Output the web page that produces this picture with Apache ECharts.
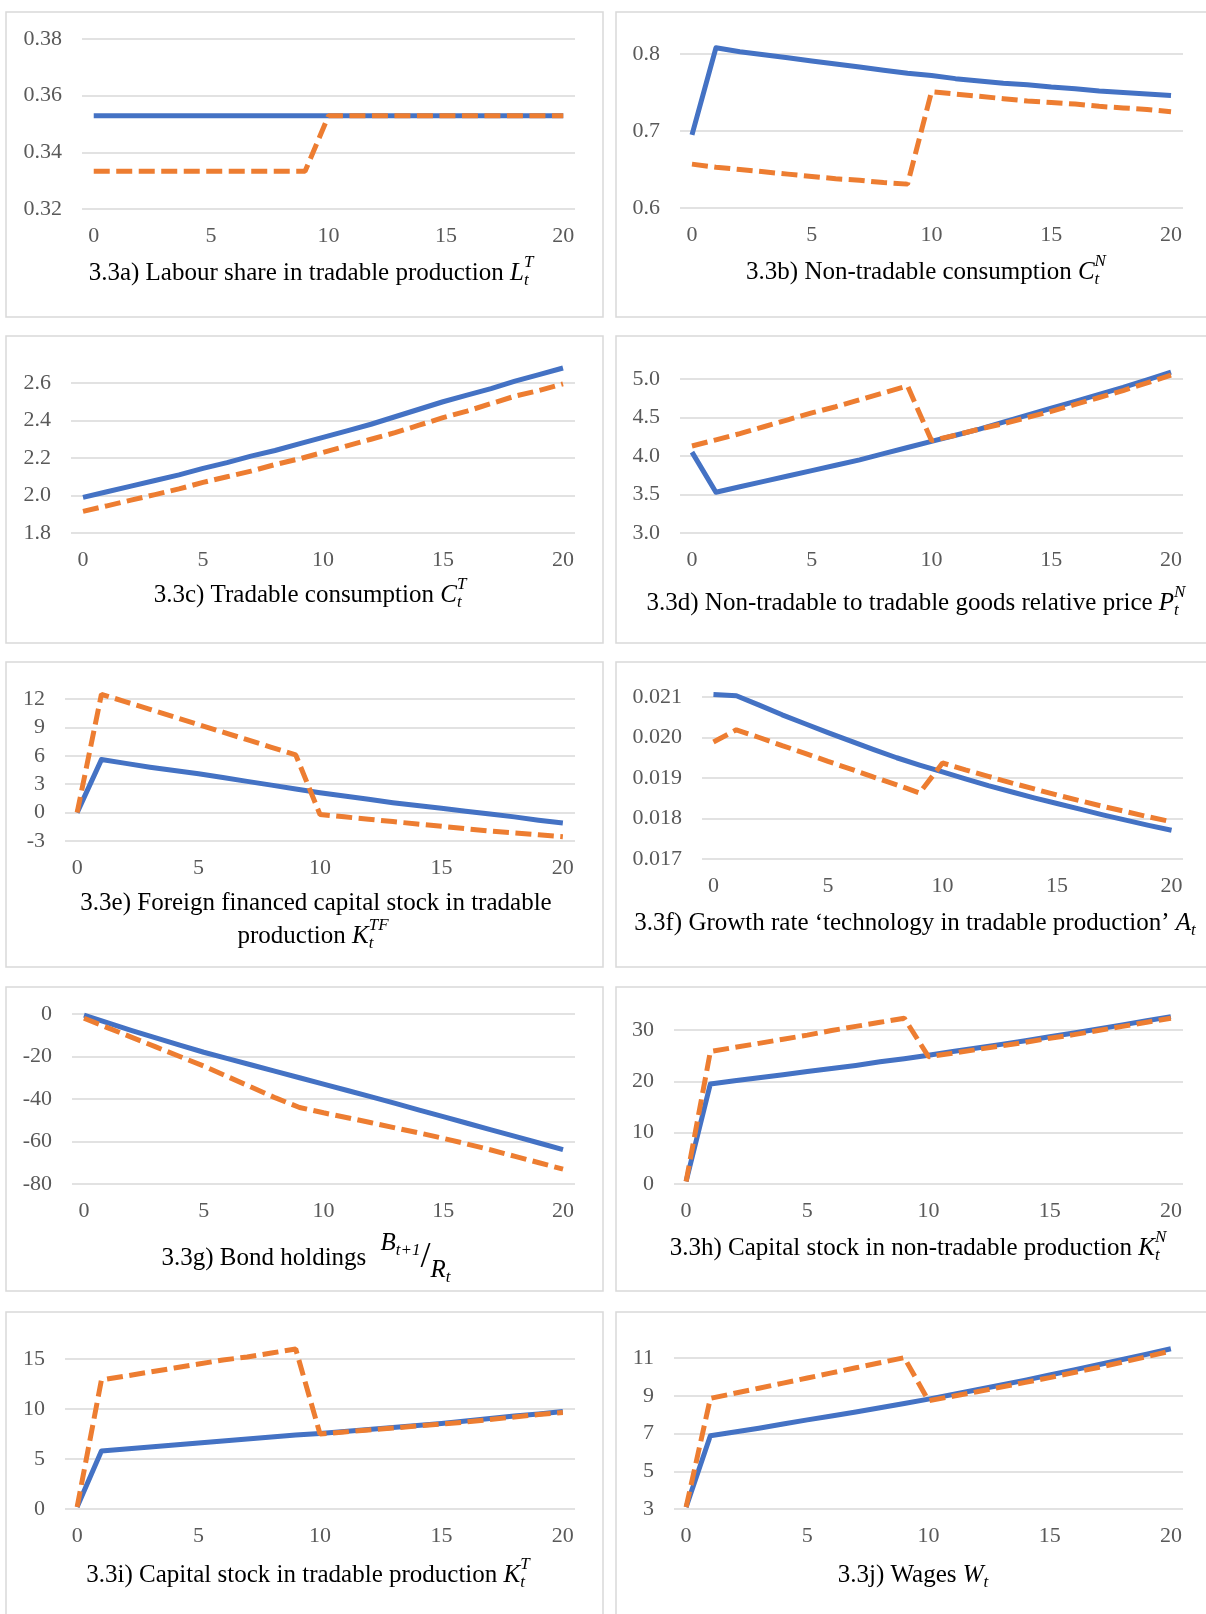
<!DOCTYPE html>
<html><head><meta charset="utf-8">
<script src="https://cdn.jsdelivr.net/npm/echarts@6/dist/echarts.min.js"></script>
<style>html,body{margin:0;padding:0;background:#fff}#c{width:1206px;height:1614px}</style>
</head><body><div id="c"></div>
<script>
// ---------- categories ----------
const periods = ['0','1','2','3','4','5','6','7','8','9','10','11','12','13','14','15','16','17','18','19','20'];

// ---------- y tick labels ----------
const yTicksA = [0.32, 0.34, 0.36, 0.38];
const yTicksB = [0.6, 0.7, 0.8];
const yTicksC = [1.8, 2.0, 2.2, 2.4, 2.6];
const yTicksD = [3.0, 3.5, 4.0, 4.5, 5.0];
const yTicksE = [-3, 0, 3, 6, 9, 12];
const yTicksF = [0.017, 0.018, 0.019, 0.020, 0.021];
const yTicksG = [-80, -60, -40, -20, 0];
const yTicksH = [0, 10, 20, 30];
const yTicksI = [0, 5, 10, 15];
const yTicksJ = [3, 5, 7, 9, 11];

// ---------- series values (blue = solid, orange = dashed) ----------
const labourShareBase  = [0.3529,0.3529,0.3529,0.3529,0.3529,0.3529,0.3529,0.3529,0.3529,0.3529,0.3529,0.3529,0.3529,0.3529,0.3529,0.3529,0.3529,0.3529,0.3529,0.3529,0.3529];
const labourShareShock = [0.3333,0.3333,0.3333,0.3333,0.3333,0.3333,0.3333,0.3333,0.3333,0.3333,0.3529,0.3529,0.3529,0.3529,0.3529,0.3529,0.3529,0.3529,0.3529,0.3529,0.3529];

const nonTradConsBase  = [0.695,0.808,0.803,0.799,0.795,0.791,0.787,0.783,0.779,0.775,0.772,0.768,0.765,0.762,0.760,0.757,0.755,0.752,0.750,0.748,0.746];
const nonTradConsShock = [0.657,0.653,0.650,0.647,0.644,0.641,0.638,0.636,0.633,0.631,0.751,0.748,0.745,0.742,0.739,0.737,0.735,0.732,0.730,0.728,0.725];

const tradConsBase  = [1.99,2.02,2.05,2.08,2.11,2.145,2.175,2.21,2.24,2.275,2.31,2.345,2.38,2.42,2.46,2.50,2.535,2.57,2.61,2.645,2.68];
const tradConsShock = [1.915,1.945,1.975,2.005,2.035,2.07,2.10,2.13,2.165,2.195,2.23,2.265,2.30,2.335,2.375,2.415,2.45,2.49,2.53,2.56,2.595];

const relPriceBase  = [4.05,3.53,3.60,3.67,3.74,3.81,3.88,3.95,4.03,4.11,4.19,4.27,4.35,4.44,4.53,4.62,4.71,4.80,4.89,4.99,5.09];
const relPriceShock = [4.13,4.21,4.29,4.38,4.47,4.56,4.64,4.73,4.82,4.91,4.20,4.27,4.35,4.42,4.50,4.58,4.67,4.76,4.85,4.95,5.05];

const foreignCapBase  = [0,5.6,5.2,4.8,4.45,4.1,3.7,3.3,2.9,2.5,2.1,1.75,1.4,1.05,0.75,0.45,0.15,-0.15,-0.45,-0.8,-1.1];
const foreignCapShock = [0,12.5,11.7,10.9,10.1,9.3,8.5,7.7,6.9,6.1,-0.2,-0.45,-0.7,-0.95,-1.2,-1.45,-1.7,-1.95,-2.15,-2.35,-2.55];

const techGrowthBase  = [0.02106,0.02103,0.02080,0.02056,0.02034,0.02012,0.01991,0.01970,0.01950,0.01932,0.01915,0.01898,0.01881,0.01866,0.01851,0.01837,0.01823,0.01809,0.01796,0.01783,0.01771];
const techGrowthShock = [0.01989,0.02019,0.02000,0.01980,0.01961,0.01941,0.01922,0.01902,0.01883,0.01863,0.01937,0.01920,0.01904,0.01888,0.01873,0.01858,0.01844,0.01830,0.01817,0.01804,0.01792];

const bondBase  = [-0.5,-4.2,-7.8,-11.2,-14.6,-18.0,-21.0,-24.0,-27.0,-30.0,-33.0,-36.0,-39.0,-42.1,-45.2,-48.3,-51.4,-54.5,-57.6,-60.7,-63.8];
const bondShock = [-2,-6.5,-11,-15.5,-20,-24.5,-29.5,-34.5,-39.5,-44,-46.5,-48.8,-51.2,-53.6,-56,-58.5,-61.2,-64,-67,-70,-73];

const capNonTradBase  = [0.5,19.5,20.1,20.7,21.3,21.9,22.5,23.1,23.8,24.4,25.1,25.8,26.5,27.2,27.9,28.7,29.4,30.2,31.0,31.8,32.6];
const capNonTradShock = [0.5,25.8,26.6,27.4,28.2,29.0,29.9,30.7,31.5,32.3,24.8,25.5,26.2,26.9,27.6,28.4,29.1,29.9,30.7,31.5,32.3];

const capTradBase  = [0.2,5.8,6.0,6.2,6.4,6.6,6.8,7.0,7.2,7.4,7.55,7.75,7.95,8.15,8.35,8.55,8.8,9.05,9.3,9.5,9.75];
const capTradShock = [0.2,12.9,13.3,13.7,14.1,14.5,14.9,15.2,15.6,16.0,7.5,7.7,7.9,8.1,8.3,8.5,8.7,8.95,9.2,9.45,9.65];

const wagesBase  = [3.1,6.88,7.08,7.28,7.5,7.72,7.93,8.14,8.36,8.59,8.82,9.07,9.32,9.57,9.83,10.1,10.37,10.64,10.92,11.2,11.49];
const wagesShock = [3.1,8.86,9.13,9.4,9.67,9.94,10.21,10.48,10.75,11.02,8.74,8.97,9.21,9.46,9.71,9.96,10.23,10.5,10.78,11.07,11.37];

// ---------- styling / layout ----------
const BLUE = '#4472C4', ORANGE = '#ED7D31', GRID = '#d9d9d9', LABEL = '#595959';
const SERIF = '"Liberation Serif", "Times New Roman", serif';

const panels = [
  {g:[82, 39, 493,170], ticks:yTicksA, dec:2, base:labourShareBase, shock:labourShareShock},
  {g:[680, 54, 503,154], ticks:yTicksB, dec:1, base:nonTradConsBase, shock:nonTradConsShock},
  {g:[71, 383, 504,150], ticks:yTicksC, dec:1, base:tradConsBase, shock:tradConsShock},
  {g:[680,379, 503,154], ticks:yTicksD, dec:1, base:relPriceBase, shock:relPriceShock},
  {g:[65, 699, 510,142], ticks:yTicksE, dec:0, base:foreignCapBase, shock:foreignCapShock},
  {g:[702,697, 481,162], ticks:yTicksF, dec:3, base:techGrowthBase, shock:techGrowthShock},
  {g:[72,1014, 503,170], ticks:yTicksG, dec:0, base:bondBase, shock:bondShock},
  {g:[674,1030,509,154], ticks:yTicksH, dec:0, base:capNonTradBase, shock:capNonTradShock},
  {g:[65,1359, 510,150], ticks:yTicksI, dec:0, base:capTradBase, shock:capTradShock},
  {g:[674,1358,509,151], ticks:yTicksJ, dec:0, base:wagesBase, shock:wagesShock}
];

const grids = [], xAxes = [], yAxes = [], series = [];
panels.forEach((p, i) => {
  grids.push({left:p.g[0], top:p.g[1], width:p.g[2], height:p.g[3], containLabel:false});
  xAxes.push({
    type:'category', gridIndex:i, data:periods, boundaryGap:true,
    axisLine:{show:false}, axisTick:{show:false}, splitLine:{show:false},
    axisLabel:{interval:4, margin:16, color:LABEL, fontSize:22, fontFamily:SERIF}
  });
  const t = p.ticks;
  const step = +(t[1] - t[0]).toFixed(6);
  yAxes.push({
    type:'value', gridIndex:i, min:t[0], max:t[t.length-1], interval:step,
    axisLine:{show:false}, axisTick:{show:false},
    axisLabel:{margin:20, color:LABEL, fontSize:22, fontFamily:SERIF,
      formatter:v => (+v).toFixed(p.dec)},
    splitLine:{show:true, lineStyle:{color:GRID, width:1.5}}
  });
  series.push({type:'line', xAxisIndex:i, yAxisIndex:i, data:p.base, symbol:'none', showSymbol:false,
    clip:false, silent:true, z:2, lineStyle:{color:BLUE, width:5, type:'solid', join:'round'}});
  series.push({type:'line', xAxisIndex:i, yAxisIndex:i, data:p.shock, symbol:'none', showSymbol:false,
    clip:false, silent:true, z:3, lineStyle:{color:ORANGE, width:5, type:[16,6.5]}});
});

// ---------- panel borders ----------
const graphics = [];
const rowsY = [[12,305],[336,307],[662,305],[987,304],[1312,400]];
rowsY.forEach(r => {
  graphics.push({type:'rect', silent:true, shape:{x:6, y:r[0], width:597, height:r[1]},
    style:{fill:'none', stroke:GRID, lineWidth:1.5}});
  graphics.push({type:'rect', silent:true, shape:{x:616, y:r[0], width:620, height:r[1]},
    style:{fill:'none', stroke:GRID, lineWidth:1.5}});
});

// ---------- titles (text + math) ----------
const cvs = document.createElement('canvas').getContext('2d');
function measure(txt, size, italic) {
  cvs.font = (italic ? 'italic ' : '') + size + 'px ' + SERIF;
  return cvs.measureText(txt).width;
}
function addTitle(parts, cx, cy) {
  const items = []; let x = 0;
  parts.forEach(p => {
    if (typeof p === 'string') p = {text:p};
    if (p.sup !== undefined || p.sub !== undefined) {
      const s = p.size || 17; let w = 0;
      if (p.sup) { items.push({text:p.sup, x, dy:(p.dy||0)-10, size:s, italic:true}); w = Math.max(w, measure(p.sup, s, true)); }
      if (p.sub) { items.push({text:p.sub, x, dy:(p.dy||0)+8, size:s, italic:true}); w = Math.max(w, measure(p.sub, s, true)); }
      x += w + (p.gap || 0);
    } else {
      const s = p.size || 25, it = !!p.italic;
      items.push({text:p.text, x:x + (p.dx||0), dy:p.dy||0, size:s, italic:it});
      x += measure(p.text, s, it) + (p.dx||0) + (p.gap||0);
    }
  });
  const x0 = cx - x / 2;
  items.forEach(it => {
    graphics.push({type:'text', silent:true, x:x0 + it.x, y:cy + it.dy,
      style:{text:it.text, fontSize:it.size, fontFamily:SERIF, fontStyle:it.italic?'italic':'normal',
        fill:'#000', textAlign:'left', textVerticalAlign:'middle', align:'left', verticalAlign:'middle'}});
  });
}
addTitle(['3.3a) Labour share in tradable production ', {text:'L', italic:true}, {sup:'T', sub:'t'}], 311, 273);
addTitle(['3.3b) Non-tradable consumption ', {text:'C', italic:true}, {sup:'N', sub:'t'}], 926, 272);
addTitle(['3.3c) Tradable consumption ', {text:'C', italic:true}, {sup:'T', sub:'t'}], 310, 595);
addTitle(['3.3d) Non-tradable to tradable goods relative price ', {text:'P', italic:true}, {sup:'N', sub:'t'}], 916, 603);
addTitle(['3.3e) Foreign financed capital stock in tradable'], 316, 903);
addTitle(['production ', {text:'K', italic:true}, {sup:'TF', sub:'t'}], 313, 936);
addTitle(['3.3f) Growth rate \u2018technology in tradable production\u2019 ', {text:'A', italic:true}, {sub:'t'}], 915, 923);
addTitle(['3.3g) Bond holdings ', {text:'B', italic:true, dy:-15, dx:8}, {sub:'t+1', dy:-15},
          {text:'/', size:36, dy:0}, {text:'R', italic:true, dy:12}, {sub:'t', dy:12}], 306, 1258);
addTitle(['3.3h) Capital stock in non-tradable production ', {text:'K', italic:true}, {sup:'N', sub:'t'}], 918, 1248);
addTitle(['3.3i) Capital stock in tradable production ', {text:'K', italic:true}, {sup:'T', sub:'t'}], 308, 1575);
addTitle(['3.3j) Wages ', {text:'W', italic:true}, {sub:'t'}], 913, 1575);

const chart = echarts.init(document.getElementById('c'), null, {renderer:'canvas', width:1206, height:1614});
chart.setOption({
  animation:false,
  backgroundColor:'#fff',
  grid:grids, xAxis:xAxes, yAxis:yAxes, series:series,
  graphic:{elements:graphics}
});
</script>
</body></html>
